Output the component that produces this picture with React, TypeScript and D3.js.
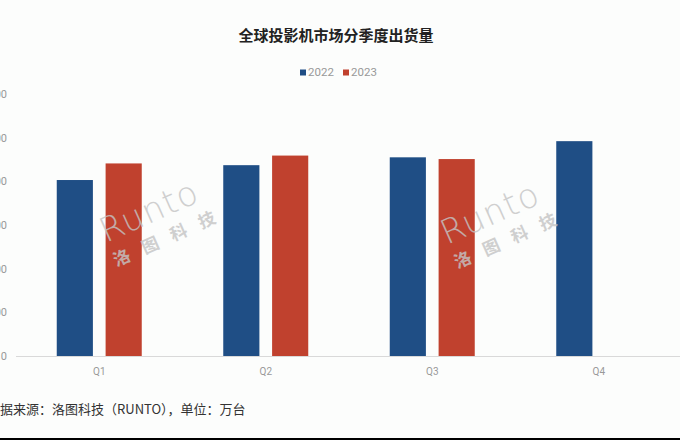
import React from "react";
import * as d3 from "d3";

const quarters = ["Q1", "Q2", "Q3", "Q4"];
const seriesNames = ["2022", "2023"];
const values2022 = [403, 437, 455, 492];
const values2023: (number | null)[] = [441, 459, 451, null];
const yTicks = [0, 100, 200, 300, 400, 500, 600];
const colors = ["#1f4e85", "#c0412e"];
const title = "全球投影机市场分季度出货量";
const source = "数据来源：洛图科技（RUNTO），单位：万台";

const W = 680;
const H = 440;
const plotLeft = 16;
const plotRight = 682;
const plotTop = 94;
const plotBottom = 356;

export default function App() {
  const x = d3.scaleBand<string>().domain(quarters).range([plotLeft, plotRight]).paddingInner(0).paddingOuter(0);
  const inner = d3.scaleBand<string>().domain(seriesNames).range([0, 85]).paddingInner(0.26);
  const groupOffset = (x.bandwidth() - 85) / 2;
  const y = d3.scaleLinear().domain([0, 600]).range([plotBottom, plotTop]);
  const series = [values2022, values2023];

  const watermarks = [[106, 243], [447, 245]];

  return (
    <div style={{ position: "fixed", left: 0, top: 0, width: W, height: H }}>
      <svg width={W} height={H} style={{ display: "block", overflow: "hidden", background: "#fcfdfc" }}
        fontFamily="'Noto Sans CJK SC', 'Noto Sans', sans-serif">
        <rect x={0} y={0} width={W} height={H} fill="#fcfdfc" />
        <text x={336} y={41} textAnchor="middle" fontSize={15} fontWeight="bold" fill="#222">{title}</text>
        {seriesNames.map((s, i) => {
          const lx = 300 + i * 43;
          return (
            <g key={s}>
              <rect x={lx} y={69.5} width={6} height={6} fill={colors[i]} />
              <text x={lx + 8} y={76} fontSize={11.5} fill="#999" fontFamily="Roboto, 'Noto Sans', sans-serif">{s}</text>
            </g>
          );
        })}
        {yTicks.map((t) => (
          <text key={t} x={7} y={y(t) + 4} textAnchor="end" fontSize={11} fill="#999" fontFamily="Roboto, 'Noto Sans', sans-serif">{t}</text>
        ))}
        <line x1={plotLeft} x2={W} y1={plotBottom + 0.5} y2={plotBottom + 0.5} stroke="#d9d9d9" strokeWidth={1} />
        {series.map((vals, si) =>
          vals.map((v, qi) =>
            v == null ? null : (
              <rect key={`${si}-${qi}`}
                x={(x(quarters[qi]) as number) + groupOffset + (inner(seriesNames[si]) as number)}
                y={y(v)}
                width={inner.bandwidth()}
                height={plotBottom - y(v)}
                fill={colors[si]} />
            )
          )
        )}
        {quarters.map((q) => (
          <text key={q} x={(x(q) as number) + x.bandwidth() / 2} y={375} textAnchor="middle" fontSize={10} fill="#999" fontFamily="Roboto, 'Noto Sans', sans-serif">{q}</text>
        ))}
        {watermarks.map(([wx, wy], i) => (
          <g key={i} transform={`translate(${wx},${wy}) rotate(-24)`} fill="#c4c4c4" opacity={0.8}>
            <text x={0} y={0} fontSize={34} fontFamily="'DejaVu Sans', sans-serif" fontWeight={200} letterSpacing={1}>Runto</text>
            <text x={0} y={26} fontSize={17} fontWeight="bold" letterSpacing={14}>洛图科技</text>
          </g>
        ))}
        <text x={-13} y={414} fontSize={13} fill="#333">{source}</text>
        <rect x={0} y={438} width={W} height={2} fill="#000" />
      </svg>
    </div>
  );
}
